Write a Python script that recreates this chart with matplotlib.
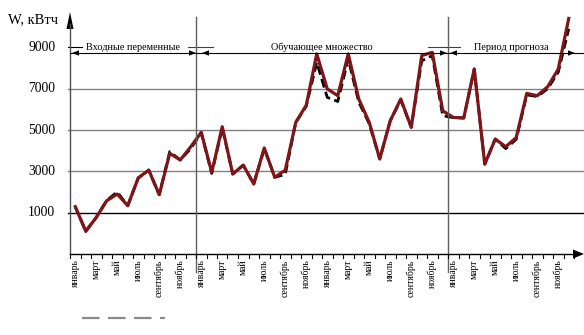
import matplotlib
matplotlib.use("Agg")
import matplotlib.pyplot as plt
from matplotlib.patches import Polygon
from matplotlib.lines import Line2D
import numpy as np

plt.rcParams['font.family'] = ['Liberation Serif', 'DejaVu Serif']

# Monthly consumption over four years, kWh
month_names = ['январь', '', 'март', '', 'май', '', 'июль', '', 'сентябрь', '', 'ноябрь', '']
tick_labels = month_names * 4

actual = [1290, 100, 770, 1580, 1900, 1340, 2680, 3060, 1870, 3870, 3550, 4190,
          4890, 2950, 5160, 2870, 3300, 2390, 4130, 2710, 3060, 5370, 6200, 8680,
          6990, 6660, 8680, 6500, 5370, 3600, 5450, 6500, 5130, 8600, 8760, 5930,
          5610, 5580, 7950, 3350, 4560, 4190, 4640, 6770, 6660, 7100, 7950, 10400]

model = [1290, 100, 770, 1600, 2000, 1340, 2680, 3060, 1870, 3950, 3550, 4100,
         4850, 2900, 5100, 2870, 3300, 2390, 4100, 2710, 2850, 5370, 6150, 8270,
         6580, 6380, 8430, 6350, 5300, 3600, 5450, 6450, 5130, 8350, 8600, 5690,
         5600, 5580, 7950, 3350, 4560, 4100, 4550, 6700, 6620, 7000, 7800, 9900]

y_ticks = [1000, 3000, 5000, 7000, 9000]
sections = ['Входные переменные', 'Обучающее множество', 'Период прогноза']
section_bounds = [(0, 12), (12, 36), (36, 48)]

W, H = 584, 335
fig = plt.figure(figsize=(W / 100, H / 100), dpi=100)
ax = fig.add_axes([70 / W, 81 / H, 504 / W, 248 / H])
ax.set_xlim(0, 48)
ax.set_ylim(-1000, 11000)
ax.axis('off')


def px(x, y):
    return (x / W, 1 - y / H)


def tri(points, color='black'):
    fig.add_artist(Polygon([px(*p) for p in points], closed=True,
                           transform=fig.transFigure, color=color, lw=0))


def seg(x0, y0, x1, y1, color='black', lw=0.8, **kw):
    fig.add_artist(Line2D([x0 / W, x1 / W], [1 - y0 / H, 1 - y1 / H],
                          transform=fig.transFigure, color=color, lw=lw, **kw))


# horizontal grid
for v in y_ticks[:-1]:
    c = 'black' if v == 1000 else '#808080'
    ax.plot([-0.2, 48.95], [v, v], color=c, lw=1.0, clip_on=False, zorder=1)
    ax.text(-1.4, v, str(v), ha='right', va='center', fontsize=9.8)
ax.text(-1.4, 9000, '9000', ha='right', va='center', fontsize=9.8)

# section separators and the crossbars at 9000
y9 = 254 - (9000 + 1000) * 248 / 12000
seg(68, y9, 82, y9, color='black', lw=0.8)
seg(188, y9, 213, y9, color='#404040', lw=0.8)
seg(428, y9, 460, y9, color='#404040', lw=0.8)
for b in (12, 36):
    xb = 70 + b * 10.5
    seg(xb, 17, xb, 272, color='#606060', lw=1.0)

# y axis with arrow
seg(70, 254, 70, 24, color='#505050', lw=1.0)
tri([(66.5, 29), (70, 12), (73.5, 29)])
ax.text(-5.95, 10330, 'W, кВтч', ha='left', va='center', fontsize=10.5,
        clip_on=False)

# x axis with arrow and ticks
seg(70, 254, 575, 254, color='black', lw=1.0)
tri([(573, 249.5), (584, 254), (573, 258.5)])
for i in range(49):
    xi = 70 + i * 10.5
    seg(xi, 254, xi, 257.5, color='black', lw=0.8)
for i, lab in enumerate(tick_labels):
    if lab:
        ax.text(i + 0.5, -1270, lab, rotation=90, ha='center', va='top',
                fontsize=7, clip_on=False)

# section span arrows and titles
ya = 53
seg(70, ya, 584, ya, color='black', lw=0.8)
tri([(72, ya), (79, ya - 2.7), (79, ya + 2.7)])
tri([(196, ya), (189, ya - 2.7), (189, ya + 2.7)])
tri([(202, ya), (209, ya - 2.7), (209, ya + 2.7)])
tri([(447, ya), (440, ya - 2.7), (440, ya + 2.7)])
tri([(450, ya), (457, ya - 2.7), (457, ya + 2.7)])
tri([(575, ya), (568, ya - 2.7), (568, ya + 2.7)])
for name, (a, b) in zip(sections, section_bounds):
    ax.text((a + b) / 2, 9000, name, ha='center', va='center', fontsize=7.4,
            bbox=dict(facecolor='white', edgecolor='none', pad=0.6))

# series
x = np.arange(len(actual)) + 0.5
ax.plot(x, model, color='black', lw=2.0, dashes=(3.2, 1.6), zorder=3,
        clip_on=False, solid_joinstyle='round')
ax.plot(x, actual, color='#7e1518', lw=2.3, zorder=4, clip_on=False,
        solid_joinstyle='round')

# legend sample line
seg(82, 318, 165, 318, color='#8a8a8a', lw=1.6, dashes=(7.9, 3.8))

fig.savefig('out.png', dpi=100, facecolor='white')
